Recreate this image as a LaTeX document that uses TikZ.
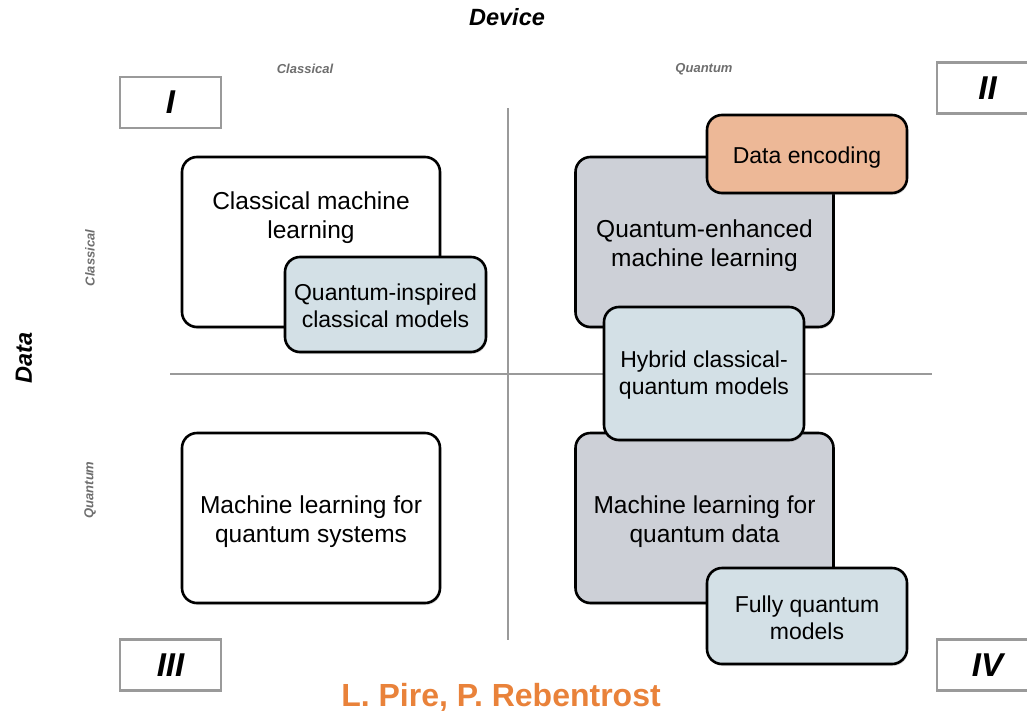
\documentclass[tikz,border=0pt]{standalone}
\usepackage{fontspec}
\setmainfont{Liberation Sans}
\usetikzlibrary{shadows}
\definecolor{boxblue}{HTML}{D3E0E6}
\definecolor{boxgray}{HTML}{CDD0D7}
\definecolor{boxorange}{HTML}{EDB897}
\definecolor{credit}{HTML}{E9823A}
\definecolor{axisgray}{HTML}{9A9A9A}
\definecolor{labelgray}{HTML}{6E6E6E}
\tikzset{
  textstrut/.style={execute at begin node={\rule{0pt}{#1}}},
  roundbox/.style={draw=black, line width=2.6pt, rounded corners=15pt, align=center,
    inner sep=0pt,
    drop shadow={opacity=0.25, shadow xshift=1pt, shadow yshift=-2pt}},
  area/.style={roundbox, font=\fontsize{24.5}{29}\selectfont, textstrut=54.5pt},
  subarea/.style={roundbox, font=\fontsize{23}{27}\selectfont, textstrut=47pt},
  subareaone/.style={roundbox, font=\fontsize{23}{27}\selectfont, textstrut=23pt},
  numeral/.style={draw=axisgray, line width=2.2pt, fill=white, minimum width=101pt,
    minimum height=51pt, inner sep=0pt, font=\fontsize{33}{36}\selectfont\bfseries\itshape},
  axislabel/.style={font=\fontsize{23.5}{27}\selectfont\bfseries\itshape},
  sidelabel/.style={text=labelgray, font=\fontsize{13}{15}\selectfont\bfseries\itshape},
  axisline/.style={draw=axisgray, line width=1.6pt}
}
\begin{document}
\begin{tikzpicture}[x=1pt, y=-1pt]
\useasboundingbox (0,0) rectangle (1027,717);

% axis titles
\node[axislabel] (device) at (507,17) {Device};
\node[axislabel, rotate=90] (data) at (24,358) {Data};
\node[sidelabel] (dclass) at (305,69) {Classical};
\node[sidelabel] (dquant) at (704,69) {Quantum};
\node[sidelabel, rotate=90] (lclass) at (90,258) {Classical};
\node[sidelabel, rotate=90] (lquant) at (90,490) {Quantum};

% quadrant dividers
\coordinate (vtop) at (508,108);
\coordinate (vbot) at (508,640);
\coordinate (hleft) at (170,374);
\coordinate (hright) at (932,374);
\draw[axisline] (vtop) -- (vbot);
\draw[axisline] (hleft) -- (hright);

% quadrant numerals
\node[numeral] (q1) at (170.5,102.5) {I};
\node[numeral] (q2) at (987.5,88) {II};
\node[numeral] (q3) at (170.5,665) {III};
\node[numeral] (q4) at (987.5,665) {IV};

% quadrant I
\node[roundbox, fill=white, minimum width=258pt, minimum height=170pt] (cml) at (311,242) {};
\node[font=\fontsize{24.5}{29}\selectfont, align=center] (cmltext) at (311,218) {Classical machine\\learning};
\node[subarea, fill=boxblue, minimum width=201pt, minimum height=95pt] (qic) at (385.5,304.5) {Quantum-inspired\\classical models};

% quadrant II
\node[area, fill=boxgray, minimum width=258pt, minimum height=170pt] (qeml) at (704.5,242) {Quantum-enhanced\\machine learning};
\node[subareaone, fill=boxorange, minimum width=200pt, minimum height=78pt] (enc) at (807,154) {Data encoding};

% quadrant IV
\node[area, fill=boxgray, minimum width=258pt, minimum height=170pt] (mlqd) at (704.5,518) {Machine learning for\\quantum data};
\node[subarea, fill=boxblue, minimum width=200pt, minimum height=133pt] (hyb) at (704,373.5) {Hybrid classical-\\quantum models};
\node[subarea, fill=boxblue, minimum width=200pt, minimum height=96pt] (fqm) at (807,616) {Fully quantum\\models};

% quadrant III
\node[area, fill=white, minimum width=258pt, minimum height=170pt] (mlqs) at (311,518) {Machine learning for\\quantum systems};

% credit line
\node[text=credit, font=\fontsize{32}{35}\selectfont\bfseries] (cred) at (501,697) {L. Pire, P. Rebentrost};
\end{tikzpicture}
\end{document}
